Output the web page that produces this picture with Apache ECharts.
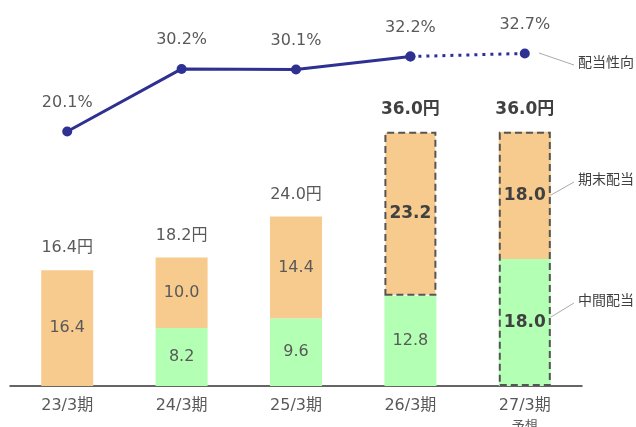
<!DOCTYPE html>
<html>
<head>
<meta charset="utf-8">
<script src="https://cdn.jsdelivr.net/npm/echarts@6/dist/echarts.min.js"></script>
<style>
  html, body { margin: 0; padding: 0; background: #fff; }
  #chart { width: 636px; height: 427px; }
</style>
</head>
<body>
<div id="chart"></div>
<script>
const categories = ['23/3期', '24/3期', '25/3期', '26/3期', '27/3期'];
const interim = ['-', 8.2, 9.6, 12.8, 18.0];      // 中間配当
const yearEnd = [16.4, 10.0, 14.4, 23.2, 18.0];   // 期末配当
const totals = [16.4, 18.2, 24.0, 36.0, 36.0];
const payoutSolid = [20.1, 30.2, 30.1, 32.2, '-'];
const payoutForecast = ['-', '-', '-', 32.2, 32.7];
const boldFrom = 3; // 26/3期 onward shown in bold

const TEXT = '#595959';
const FONT = '"DejaVu Sans", "Noto Sans CJK JP", sans-serif';
const ORANGE = '#F7CB8D';
const GREEN = '#B3FFB3';
const NAVY = '#2E3092';
const dashed = { borderColor: '#555', borderWidth: 2, borderType: [7, 4] };

const chart = echarts.init(document.getElementById('chart'));

const barLabel = (i, bold) => ({
  show: true,
  position: 'inside',
  color: bold ? '#404040' : TEXT,
  fontSize: bold ? 17 : 16,
  fontWeight: bold ? 'bold' : 'normal',
  fontFamily: FONT,
  formatter: p => p.value.toFixed(1)
});

const option = {
  animation: false,
  grid: { left: 10, right: 54, top: 33, bottom: 41, containLabel: false, outerBoundsMode: 'none' },
  xAxis: {
    type: 'category',
    data: categories,
    axisLine: { lineStyle: { color: '#333', width: 1.5 } },
    axisTick: { show: false },
    axisLabel: {
      color: TEXT,
      fontSize: 16,
      fontFamily: FONT,
      margin: 10,
      lineHeight: 20,
      formatter: (v, i) => i === 4 ? v + '\n{s|予想}' : v,
      rich: { s: { fontSize: 13, color: TEXT, fontFamily: FONT, lineHeight: 22 } }
    }
  },
  yAxis: [
    { type: 'value', min: 0, max: 50, show: false },
    { type: 'value', min: -21, max: 36, show: false }
  ],
  series: [
    {
      name: '中間配当',
      type: 'bar',
      stack: 'div',
      barWidth: 52,
      barGap: '-100%',
      data: interim.map((v, i) => ({
        value: v,
        itemStyle: { color: GREEN },
        label: barLabel(i, i === 4)
      }))
    },
    {
      name: '期末配当',
      type: 'bar',
      stack: 'div',
      barWidth: 52,
      barGap: '-100%',
      data: yearEnd.map((v, i) => ({
        value: v,
        itemStyle: i === 3 ? Object.assign({ color: ORANGE }, dashed) : { color: ORANGE },
        label: barLabel(i, i >= boldFrom)
      }))
    },
    {
      name: '合計',
      type: 'bar',
      barWidth: 52,
      barGap: '-100%',
      data: totals.map((v, i) => ({
        value: v,
        itemStyle: i === 4 ? Object.assign({ color: 'rgba(0,0,0,0)' }, dashed) : { color: 'rgba(0,0,0,0)' },
        label: {
          show: true,
          position: 'top',
          distance: 14,
          color: i >= boldFrom ? '#404040' : TEXT,
          fontSize: i >= boldFrom ? 17 : 16,
          fontWeight: i >= boldFrom ? 'bold' : 'normal',
          fontFamily: FONT,
          formatter: p => p.value.toFixed(1) + '円'
        }
      }))
    },
    {
      name: '配当性向',
      type: 'line',
      yAxisIndex: 1,
      data: payoutSolid,
      symbol: 'circle',
      symbolSize: 10,
      lineStyle: { color: NAVY, width: 3 },
      itemStyle: { color: NAVY },
      label: {
        show: true, position: 'top', distance: 16,
        color: TEXT, fontSize: 16, fontFamily: FONT,
        formatter: p => p.value.toFixed(1) + '%'
      },
      z: 5
    },
    {
      name: '配当性向予想',
      type: 'line',
      yAxisIndex: 1,
      data: payoutForecast,
      symbol: 'circle',
      symbolSize: 10,
      lineStyle: { color: NAVY, width: 3, type: [3, 5] },
      itemStyle: { color: NAVY },
      label: {
        show: true, position: 'top', distance: 16,
        color: TEXT, fontSize: 16, fontFamily: FONT,
        formatter: p => p.dataIndex === 4 ? p.value.toFixed(1) + '%' : ''
      },
      z: 5
    }
  ],
  graphic: [
    { type: 'line', shape: { x1: 539, y1: 53, x2: 574, y2: 65 }, style: { stroke: '#aaa', lineWidth: 1 } },
    { type: 'text', left: 578, top: 56, style: { text: '配当性向', fill: '#404040', font: '14px ' + FONT } },
    { type: 'line', shape: { x1: 551, y1: 195, x2: 574, y2: 182 }, style: { stroke: '#aaa', lineWidth: 1 } },
    { type: 'text', left: 578, top: 173, style: { text: '期末配当', fill: '#404040', font: '14px ' + FONT } },
    { type: 'line', shape: { x1: 551, y1: 317, x2: 574, y2: 303 }, style: { stroke: '#aaa', lineWidth: 1 } },
    { type: 'text', left: 578, top: 294, style: { text: '中間配当', fill: '#404040', font: '14px ' + FONT } }
  ]
};

chart.setOption(option);
</script>
</body>
</html>
